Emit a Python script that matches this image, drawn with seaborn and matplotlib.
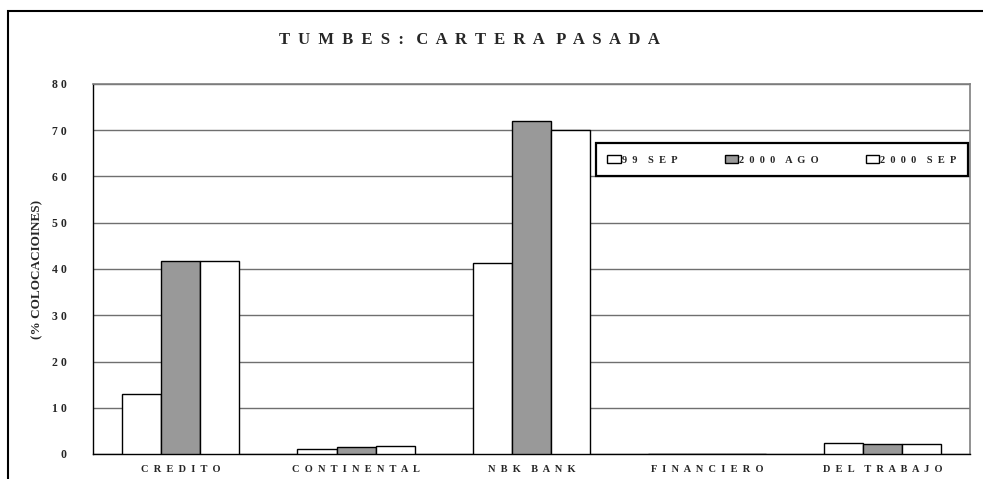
import matplotlib
matplotlib.use("Agg")
import matplotlib.pyplot as plt
from matplotlib.patches import Rectangle
import pandas as pd
import seaborn as sns

categories = ["CREDITO", "CONTINENTAL", "NBK BANK", "FINANCIERO", "DEL TRABAJO"]
series_names = ["99 SEP", "2000 AGO", "2000 SEP"]
sep_99 = [12.9, 1.1, 41.3, 0.0, 2.3]
ago_2000 = [41.7, 1.6, 72.1, 0.0, 2.2]
sep_2000 = [41.7, 1.7, 70.0, 0.0, 2.2]
y_ticks = [0, 10, 20, 30, 40, 50, 60, 70, 80]

title = "TUMBES: CARTERA PASADA"
y_label = "(% COLOCACIOINES)"


def spaced(text, gap=1, word_gap=None):
    # wide letter spacing like the original office chart
    sep = " " * gap
    word_sep = " " * (word_gap if word_gap is not None else 2 * gap)
    return word_sep.join(sep.join(word) for word in text.split(" "))


df = pd.DataFrame({
    "banco": categories * 3,
    "serie": [s for s in series_names for _ in categories],
    "valor": sep_99 + ago_2000 + sep_2000,
})

sns.set_style("white")
plt.rcParams["font.family"] = ["Liberation Serif", "DejaVu Serif"]
plt.rcParams["font.weight"] = "bold"

fig = plt.figure(figsize=(9.83, 4.79), dpi=100)
ax = fig.add_axes([93 / 983, 1 - 454 / 479, 877 / 983, 370 / 479])

palette = {"99 SEP": "white", "2000 AGO": "#999999", "2000 SEP": "white"}
sns.barplot(
    data=df,
    x="banco",
    y="valor",
    hue="serie",
    order=categories,
    hue_order=series_names,
    palette=palette,
    edgecolor="black",
    linewidth=1,
    width=0.67,
    saturation=1,
    ax=ax,
    zorder=3,
)

ax.set_ylim(0, 80)
ax.set_xlim(-0.5, len(categories) - 0.5)
ax.set_yticks(y_ticks)
ax.set_yticklabels([spaced(str(t)) for t in y_ticks], fontsize=8.5, fontweight="bold")
ax.yaxis.grid(True, color="#6f6f6f", linewidth=1, zorder=0)
ax.set_axisbelow(True)

ax.set_xticks([i - 0.5 for i in range(len(categories) + 1)])
ax.set_xticklabels([])
ax.set_xticks(range(len(categories)), minor=True)
ax.set_xticklabels([spaced(c, 2) for c in categories], minor=True, fontsize=7.5, fontweight="bold")
ax.tick_params(axis="x", which="major", direction="out", length=4, width=1, color="black")
ax.tick_params(axis="x", which="minor", length=0, pad=8)
ax.tick_params(axis="y", direction="out", length=5, width=1, color="black", pad=14)
ax.set_xlabel("")
ax.set_ylabel(y_label, fontsize=9.5, fontweight="bold", labelpad=6)

for side in ["left", "bottom"]:
    ax.spines[side].set_color("black")
    ax.spines[side].set_linewidth(1)
for side in ["top", "right"]:
    ax.spines[side].set_color("#7f7f7f")
    ax.spines[side].set_linewidth(1.2)

handles, labels = ax.get_legend_handles_labels()
leg = ax.legend(
    handles,
    [spaced(l, 2) for l in labels],
    loc="lower left",
    bbox_to_anchor=(503 / 877, 278 / 370, 372 / 877, 45 / 370),
    mode="expand",
    ncol=3,
    frameon=True,
    fancybox=False,
    framealpha=1,
    edgecolor="black",
    handlelength=1.3,
    handleheight=0.8,
    handletextpad=0.1,
    borderaxespad=0,
    borderpad=1.1,
    prop={"weight": "bold", "size": 7.5},
)
leg.get_frame().set_linewidth(1.6)

fig.text(469 / 983, 1 - 40 / 479, spaced(title, 2, 3), ha="center", va="center",
         fontsize=12, fontweight="bold")

# outer chart border, running off the right and bottom edges
fig.patches.append(Rectangle((8 / 983, -0.2), 2, 1 - 11 / 479 + 0.2,
                             transform=fig.transFigure, fill=False,
                             edgecolor="black", linewidth=1.5))

fig.savefig("out.png", dpi=100)
